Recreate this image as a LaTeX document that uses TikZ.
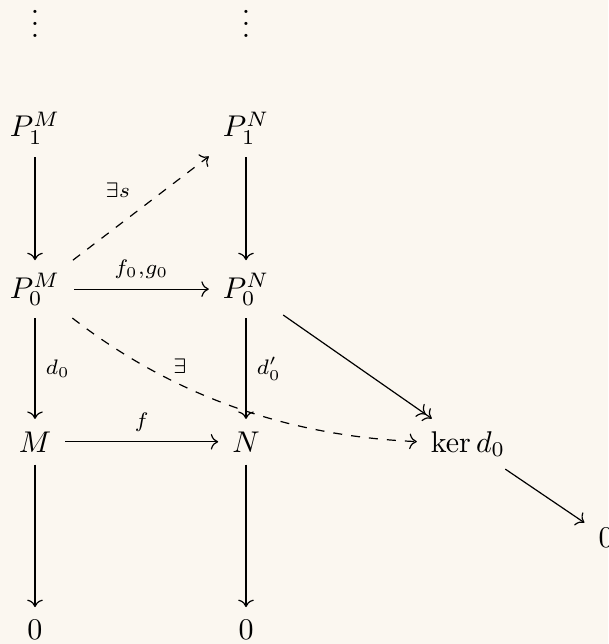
\documentclass[tikz,border=0pt]{standalone}
\usepackage{amsmath}
\usetikzlibrary{arrows.meta}
\definecolor{bg}{RGB}{251,247,240}
\begin{document}
\begin{tikzpicture}[x=0.33333pt, y=-0.33333pt,
  >={Computer Modern Rightarrow},
  obj/.style={anchor=base, inner xsep=4.5pt, inner ysep=4pt},
  lab/.style={font=\scriptsize},
  arr/.style={->},
  dasharr/.style={->, dashed},
  epiarr/.style={->>}]
\path[use as bounding box, fill=bg] (0,0) rectangle (608,644);
% objects
\node[obj] (dM) at (35,38) {$\vdots$};
\node[obj] (dN) at (246,38) {$\vdots$};
\node[obj] (P1M) at (35,137) {$P_1^M$};
\node[obj] (P1N) at (246,137) {$P_1^N$};
\node[obj] (P0M) at (35,298) {$P_0^M$};
\node[obj] (P0N) at (246,298) {$P_0^N$};
\node[obj] (M) at (35,452) {$M$};
\node[obj] (N) at (246,452) {$N$};
\node[obj] (K) at (468,452) {$\ker d_0$};
\node[obj] (Z3) at (606,547) {$0$};
\node[obj] (Z1) at (35,639) {$0$};
\node[obj] (Z2) at (246,639) {$0$};
% arrows
\draw[arr] (P1M) -- (P0M);
\draw[arr] (P1N) -- (P0N);
\draw[arr] (P0M) -- node[lab, above] {$f_0{,}g_0$} (P0N);
\draw[arr] (P0M) -- node[lab, right] {$d_0$} (M);
\draw[arr] (P0N) -- node[lab, right] {$d_0'$} (N);
\draw[arr] (M) -- node[lab, above] {$f$} (N);
\draw[arr] (M) -- (Z1);
\draw[arr] (N) -- (Z2);
\draw[dasharr] (P0M) -- node[lab, above left] {$\exists s$} (P1N);
\draw[dasharr] (P0M) .. controls (173,396) and (288,436) .. node[lab, pos=0.34, above] {$\exists$} (K);
\draw[epiarr] (P0N) -- (K);
\draw[arr] (K) -- (Z3);
\end{tikzpicture}
\end{document}
